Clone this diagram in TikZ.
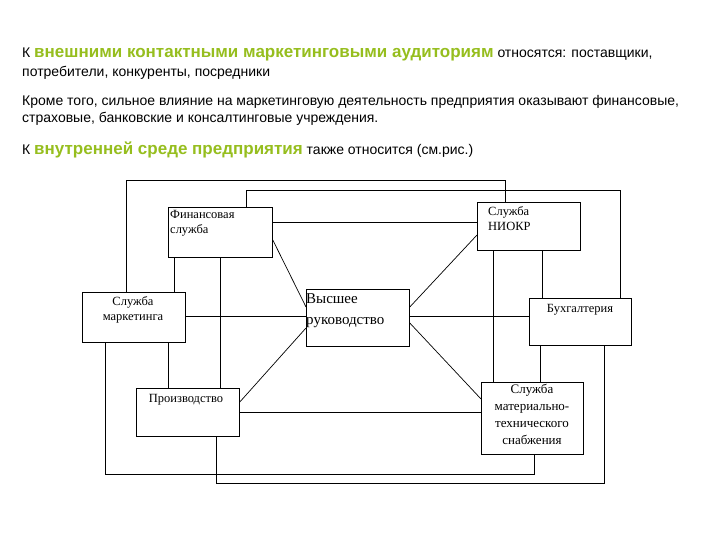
\documentclass[tikz,border=0pt]{standalone}
\usepackage{fontspec}
\setmainfont{Liberation Serif}
\newfontfamily\arial{Liberation Sans}
\definecolor{grn}{RGB}{150,190,30}
\begin{document}
\begin{tikzpicture}[x=1pt,y=-1pt,
  box/.style={draw,line width=0.8pt,anchor=north west,inner sep=0pt},
  lbl/.style={inner sep=0pt,font=\fontsize{12.5}{15}\selectfont,align=center},
  ln/.style={line width=0.7pt},
  tx/.style={anchor=base west,inner sep=0pt,font=\arial\fontsize{14}{16}\selectfont}]
\useasboundingbox (0,0) rectangle (720,540);
\fill[white] (0,0) rectangle (720,540);
% text
\node[tx] (t1) at (22,58) {К {\fontsize{17}{19}\selectfont\bfseries\color{grn}внешними контактными маркетинговыми аудиториям} относятся: поставщики,};
\node[tx] (t2) at (22,77) {потребители, конкуренты, посредники};
\node[tx] (t3) at (22,106) {Кроме того, сильное влияние на маркетинговую деятельность предприятия оказывают финансовые,};
\node[tx] (t4) at (22,123) {страховые, банковские и консалтинговые учреждения.};
\node[tx] (t5) at (22,155) {К {\fontsize{17}{19}\selectfont\bfseries\color{grn}внутренней среде предприятия} также относится (см.рис.)};
% boxes
\node[box,minimum width=104,minimum height=50] (fin) at (168,207) {};
\node[box,minimum width=103,minimum height=48] (nio) at (477,202) {};
\node[box,minimum width=103,minimum height=50] (mar) at (82,292) {};
\node[box,minimum width=103,minimum height=57] (top) at (306,289) {};
\node[box,minimum width=102,minimum height=47] (buh) at (529,298) {};
\node[box,minimum width=103,minimum height=48] (pro) at (136,388) {};
\node[box,minimum width=102,minimum height=72] (mts) at (481,382) {};
\node[lbl,align=left,anchor=north west] (lf) at (170,210) {Финансовая\\служба};
\node[lbl,align=left,anchor=north west] (ln) at (488,206) {Служба\\НИОКР};
\node[lbl,anchor=north] (lm) at (133,296) {Служба\\маркетинга};
\node[lbl,align=left,anchor=north west,font=\fontsize{15}{21}\selectfont] (lt) at (306,293) {Высшее\\руководство};
\node[lbl,anchor=north] (lb) at (580,304) {Бухгалтерия};
\node[lbl,anchor=north] (lp) at (186,394) {Производство};
\node[lbl,anchor=north,font=\fontsize{13}{17}\selectfont] (ls) at (532,384) {Служба\\материально-\\технического\\снабжения};
% connectors
\draw[ln] (126,0 |- mar.north) -- (126,180) -- (505,180) -- (505,0 |- nio.north);
\draw[ln] (246,0 |- fin.north) -- (246,190) -- (620,190) -- (620,0 |- buh.north);
\draw[ln] (fin.east |- 0,222) -- (nio.west |- 0,222);
\draw[ln] (174,0 |- fin.south) -- (174,0 |- mar.north);
\draw[ln] (220,0 |- fin.south) -- (220,0 |- pro.north);
\draw[ln] (fin.east |- 0,240) -- (top.west |- 0,307);
\draw[ln] (mar.east |- 0,316) -- (top.west |- 0,316);
\draw[ln] (168,0 |- mar.south) -- (168,0 |- pro.north);
\draw[ln] (105,0 |- mar.south) -- (105,474) -- (534,474) -- (534,0 |- mts.south);
\draw[ln] (216,0 |- pro.south) -- (216,483) -- (604,483) -- (604,0 |- buh.south);
\draw[ln] (pro.east |- 0,402) -- (top.west |- 0,328);
\draw[ln] (pro.east |- 0,412) -- (mts.west |- 0,412);
\draw[ln] (top.east |- 0,307) -- (nio.west |- 0,235);
\draw[ln] (top.east |- 0,316) -- (buh.west |- 0,316);
\draw[ln] (top.east |- 0,323) -- (mts.west |- 0,399);
\draw[ln] (493,0 |- nio.south) -- (493,0 |- mts.north);
\draw[ln] (542,0 |- nio.south) -- (542,0 |- buh.north);
\draw[ln] (540,0 |- buh.south) -- (540,0 |- mts.north);
\end{tikzpicture}
\end{document}
